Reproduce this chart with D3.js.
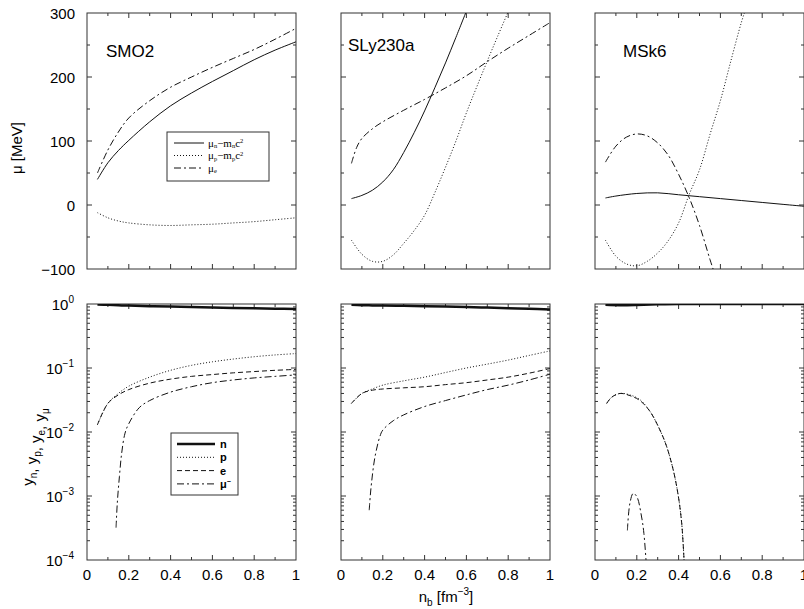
<!DOCTYPE html>
<html>
<head>
<meta charset="utf-8">
<script src="https://cdn.jsdelivr.net/npm/d3@7"></script>
<style>
  body { margin: 0; background: #fff; }
  svg { display: block; font-family: "Liberation Sans", Arial, sans-serif; }
  .frame { fill: none; stroke: #333; stroke-width: 1; }
  .tick { stroke: #333; stroke-width: 1; }
  .curve { fill: none; stroke: #111; }
</style>
</head>
<body>
<div id="chart"></div>
<script>
// modelos (columnas)
const models = ['SMO2', 'SLy230a', 'MSk6'];

// ---- fila superior: potenciales químicos [MeV] ----
const smoX = [0.05, 0.1, 0.15, 0.2, 0.3, 0.4, 0.5, 0.6, 0.7, 0.8, 0.9, 1.0];
const smoMun = [40, 66, 85, 101, 130, 155, 175, 193, 210, 227, 242, 255];
const smoMup = [-12, -20, -25, -28, -31, -32, -31, -30, -28, -26, -23, -20];
const smoMue = [50, 86, 114, 136, 163, 184, 200, 215, 229, 243, 259, 276];

const slyMunX = [0.05, 0.1, 0.15, 0.2, 0.25, 0.3, 0.35, 0.4, 0.45, 0.5, 0.55, 0.6];
const slyMun = [10, 15, 23, 36, 55, 82, 113, 147, 184, 222, 262, 303];
const slyMupX = [0.05, 0.1, 0.15, 0.2, 0.25, 0.3, 0.35, 0.4, 0.45, 0.5, 0.55, 0.6, 0.65, 0.7, 0.75, 0.8];
const slyMup = [-55, -77, -88, -88, -78, -60, -40, -16, 20, 59, 100, 144, 185, 225, 264, 302];
const slyMueX = [0.05, 0.075, 0.1, 0.15, 0.2, 0.3, 0.4, 0.5, 0.6, 0.7, 0.8, 0.9, 1.0];
const slyMue = [65, 90, 104, 119, 130, 148, 165, 183, 202, 224, 245, 265, 285];

const mskMunX = [0.05, 0.1, 0.2, 0.3, 0.4, 0.5, 0.6, 0.7, 0.8, 0.9, 1.0];
const mskMun = [11, 14, 18, 19, 16, 13, 10, 7, 4, 1, -2];
const mskMueX = [0.05, 0.1, 0.15, 0.2, 0.25, 0.3, 0.35, 0.4, 0.45, 0.5, 0.55, 0.57];
const mskMue = [67, 92, 106, 111, 108, 97, 78, 48, 12, -32, -85, -105];
const mskMupX = [0.05, 0.1, 0.15, 0.2, 0.25, 0.3, 0.35, 0.4, 0.45, 0.5, 0.55, 0.6, 0.65, 0.7, 0.72];
const mskMup = [-55, -80, -92, -95, -88, -75, -56, -28, 16, 55, 110, 163, 225, 285, 305];

// ---- fila inferior: fracciones de partículas ----
const smoYX = [0.05, 0.1, 0.15, 0.2, 0.3, 0.4, 0.5, 0.6, 0.7, 0.8, 0.9, 1.0];
const smoYn = [0.985, 0.97, 0.955, 0.945, 0.925, 0.91, 0.895, 0.88, 0.865, 0.855, 0.845, 0.835];
const smoYp = [0.013, 0.028, 0.04, 0.052, 0.072, 0.092, 0.11, 0.125, 0.138, 0.15, 0.16, 0.168];
const smoYe = [0.013, 0.028, 0.038, 0.046, 0.058, 0.067, 0.074, 0.079, 0.084, 0.088, 0.092, 0.095];
const smoYmuX = [0.139, 0.145, 0.155, 0.166, 0.182, 0.2, 0.25, 0.3, 0.4, 0.5, 0.6, 0.7, 0.8, 0.9, 1.0];
const smoYmu = [3.2e-4, 7.8e-4, 2e-3, 4.7e-3, 9.6e-3, 0.0135, 0.024, 0.031, 0.042, 0.051, 0.059, 0.065, 0.07, 0.074, 0.078];

const slyYX = [0.05, 0.1, 0.15, 0.2, 0.3, 0.4, 0.5, 0.6, 0.7, 0.8, 0.9, 1.0];
const slyYn = [0.97, 0.96, 0.95, 0.945, 0.935, 0.925, 0.91, 0.895, 0.88, 0.86, 0.84, 0.82];
const slyYp = [0.028, 0.04, 0.047, 0.054, 0.063, 0.072, 0.085, 0.1, 0.115, 0.133, 0.157, 0.185];
const slyYe = [0.028, 0.04, 0.045, 0.047, 0.049, 0.051, 0.055, 0.059, 0.065, 0.072, 0.083, 0.098];
const slyYmuX = [0.135, 0.14, 0.146, 0.162, 0.186, 0.2, 0.25, 0.3, 0.4, 0.5, 0.6, 0.7, 0.8, 0.9, 1.0];
const slyYmu = [6e-4, 1e-3, 1.6e-3, 4e-3, 8.5e-3, 0.0107, 0.015, 0.0185, 0.025, 0.031, 0.038, 0.046, 0.054, 0.065, 0.08];

const mskYnX = [0.05, 0.12, 0.2, 0.3, 0.4, 0.43, 1.0];
const mskYn = [0.972, 0.96, 0.968, 0.989, 0.999, 1.0, 1.0];
const mskYpX = [0.056, 0.08, 0.12, 0.167, 0.215, 0.263, 0.311, 0.343, 0.375, 0.399, 0.415, 0.426];
const mskYp = [0.028, 0.035, 0.04, 0.038, 0.032, 0.021, 0.0107, 0.0059, 0.0025, 9.8e-4, 3.7e-4, 1e-4];
const mskYe = [0.028, 0.035, 0.04, 0.037, 0.031, 0.021, 0.0107, 0.0059, 0.0025, 9.8e-4, 3.7e-4, 1e-4];
const mskYmuX = [0.155, 0.167, 0.183, 0.2, 0.223, 0.234, 0.244];
const mskYmu = [2.9e-4, 7.7e-4, 1.1e-3, 9.8e-4, 4.7e-4, 2.6e-4, 1e-4];

// etiquetas de ejes
const xTicks = [0, 0.2, 0.4, 0.6, 0.8, 1];
const muTicks = [300, 200, 100, 0, -100];
const logTicks = [0, -1, -2, -3, -4];

// estilos de línea
const dash = { solid: null, dotted: '1,2', dashed: '5,3', dashdot: '7,3,2,3' };

// geometría
const W = 804, H = 609;
const colX = [87, 341, 595];
const panelW = 209;
const topRow = { y0: 13, y1: 269 };
const botRow = { y0: 304, y1: 560 };

const svg = d3.select('#chart').append('svg')
  .attr('width', W).attr('height', H);

const pair = (xs, ys) => xs.map((x, i) => [x, ys[i]]);

const topSeries = [
  [
    { d: pair(smoX, smoMun), s: 'solid' },
    { d: pair(smoX, smoMup), s: 'dotted' },
    { d: pair(smoX, smoMue), s: 'dashdot' }
  ],
  [
    { d: pair(slyMunX, slyMun), s: 'solid' },
    { d: pair(slyMupX, slyMup), s: 'dotted' },
    { d: pair(slyMueX, slyMue), s: 'dashdot' }
  ],
  [
    { d: pair(mskMunX, mskMun), s: 'solid' },
    { d: pair(mskMupX, mskMup), s: 'dotted' },
    { d: pair(mskMueX, mskMue), s: 'dashdot' }
  ]
];

const botSeries = [
  [
    { d: pair(smoYX, smoYn), s: 'solid', w: 2.5 },
    { d: pair(smoYX, smoYp), s: 'dotted' },
    { d: pair(smoYX, smoYe), s: 'dashed' },
    { d: pair(smoYmuX, smoYmu), s: 'dashdot' }
  ],
  [
    { d: pair(slyYX, slyYn), s: 'solid', w: 2.5 },
    { d: pair(slyYX, slyYp), s: 'dotted' },
    { d: pair(slyYX, slyYe), s: 'dashed' },
    { d: pair(slyYmuX, slyYmu), s: 'dashdot' }
  ],
  [
    { d: pair(mskYnX, mskYn), s: 'solid', w: 2.5 },
    { d: pair(mskYpX, mskYp), s: 'dotted' },
    { d: pair(mskYpX, mskYe), s: 'dashed' },
    { d: pair(mskYmuX, mskYmu), s: 'dashdot' }
  ]
];

// dibuja un panel con marco, marcas interiores y curvas
function drawPanel(col, row, yScale, series, minorY) {
  const x0 = colX[col], x1 = x0 + panelW;
  const x = d3.scaleLinear().domain([0, 1]).range([x0, x1]);
  const id = `clip-${row}-${col}`;
  svg.append('clipPath').attr('id', id)
    .append('rect')
    .attr('x', x0).attr('y', yScale.range()[1])
    .attr('width', panelW).attr('height', yScale.range()[0] - yScale.range()[1]);

  const g = svg.append('g');
  const [yb, yt] = yScale.range();

  // marcas en x (arriba y abajo)
  d3.range(1, 10).forEach(i => {
    const v = i / 10;
    const len = i % 2 === 0 ? 5 : 3;
    g.append('line').attr('class', 'tick')
      .attr('x1', x(v)).attr('x2', x(v)).attr('y1', yb).attr('y2', yb - len);
    g.append('line').attr('class', 'tick')
      .attr('x1', x(v)).attr('x2', x(v)).attr('y1', yt).attr('y2', yt + len);
  });

  // marcas en y (izquierda y derecha)
  minorY.forEach(t => {
    const py = yScale(t.v);
    if (py <= yt + 0.5 || py >= yb - 0.5) return;
    g.append('line').attr('class', 'tick')
      .attr('x1', x0).attr('x2', x0 + t.len).attr('y1', py).attr('y2', py);
    g.append('line').attr('class', 'tick')
      .attr('x1', x1).attr('x2', x1 - t.len).attr('y1', py).attr('y2', py);
  });

  const line = d3.line()
    .x(d => x(d[0]))
    .y(d => yScale(d[1]))
    .curve(d3.curveCatmullRom.alpha(0.5));

  const cg = svg.append('g').attr('clip-path', `url(#${id})`);
  series.forEach(s => {
    cg.append('path').attr('class', 'curve')
      .attr('d', line(s.d))
      .style('stroke-width', s.w || 1)
      .attr('stroke-dasharray', dash[s.s]);
  });

  g.append('rect').attr('class', 'frame')
    .attr('x', x0).attr('y', yt).attr('width', panelW).attr('height', yb - yt);

  return x;
}

// escalas verticales
const yMu = d3.scaleLinear().domain([-100, 300]).range([topRow.y1, topRow.y0]);
const yLog = d3.scaleLog().domain([1e-4, 1]).range([botRow.y1, botRow.y0]);

const muMarks = d3.range(-50, 300, 50).map(v => ({ v, len: v % 100 === 0 ? 5 : 3 }));
const logMarks = [];
for (let e = -4; e < 0; e++) {
  for (let k = 1; k <= 9; k++) {
    logMarks.push({ v: k * Math.pow(10, e), len: k === 1 ? 5 : 3 });
  }
}

models.forEach((m, c) => {
  drawPanel(c, 0, yMu, topSeries[c], muMarks);
  const x = drawPanel(c, 1, yLog, botSeries[c], logMarks);

  // etiquetas del eje x en la fila inferior
  xTicks.forEach(v => {
    svg.append('text')
      .attr('x', x(v)).attr('y', 580)
      .attr('text-anchor', 'middle')
      .style('font-size', '15px')
      .text(v === 0 || v === 1 ? String(v) : v.toFixed(1));
  });
});

// títulos de los modelos
const titlePos = [[106, 57], [348, 51], [623, 57]];
models.forEach((m, i) => {
  svg.append('text')
    .attr('x', titlePos[i][0]).attr('y', titlePos[i][1])
    .style('font-size', '17px')
    .text(m);
});

// etiquetas del eje y (solo primera columna)
muTicks.forEach(v => {
  svg.append('text')
    .attr('x', 75).attr('y', yMu(v) + 5.5)
    .attr('text-anchor', 'end')
    .style('font-size', '15px')
    .text(v < 0 ? '\u2212' + Math.abs(v) : String(v));
});

logTicks.forEach(e => {
  const t = svg.append('text')
    .attr('x', 74).attr('y', yLog(Math.pow(10, e)) + 6)
    .attr('text-anchor', 'end')
    .style('font-size', '15px');
  t.append('tspan').text('10');
  t.append('tspan').attr('dy', -7).style('font-size', '10px')
    .text(e === 0 ? '0' : '\u2212' + Math.abs(e));
});

// títulos de ejes
svg.append('text')
  .attr('transform', 'translate(22,148) rotate(-90)')
  .attr('text-anchor', 'middle')
  .style('font-size', '15px')
  .text('\u03bc [MeV]');

const yl = svg.append('text')
  .attr('transform', 'translate(33,447) rotate(-90)')
  .attr('text-anchor', 'middle')
  .style('font-size', '15px');
[['y', 'n'], [', y', 'p'], [', y', 'e'], [', y', '\u03bc']].forEach(([a, b]) => {
  yl.append('tspan').text(a);
  yl.append('tspan').attr('dy', 4).style('font-size', '10px').text(b);
  yl.append('tspan').attr('dy', -4).text('');
});

const xl = svg.append('text')
  .attr('x', 446).attr('y', 602)
  .attr('text-anchor', 'middle')
  .style('font-size', '15px');
xl.append('tspan').text('n');
xl.append('tspan').attr('dy', 4).style('font-size', '10px').text('b');
xl.append('tspan').attr('dy', -4).text(' [fm');
xl.append('tspan').attr('dy', -7).style('font-size', '10px').text('\u22123');
xl.append('tspan').attr('dy', 7).text(']');

// leyenda superior
const topLegend = [
  { s: 'solid', a: '\u03bc', sa: 'n', b: '\u2212m', sb: 'n', c: 'c', sc: '2' },
  { s: 'dotted', a: '\u03bc', sa: 'p', b: '\u2212m', sb: 'p', c: 'c', sc: '2' },
  { s: 'dashdot', a: '\u03bc', sa: 'e' }
];
svg.append('rect').attr('class', 'frame')
  .attr('x', 167).attr('y', 132).attr('width', 102).attr('height', 49);
topLegend.forEach((r, i) => {
  const py = 143 + i * 12.5;
  svg.append('line').attr('class', 'curve')
    .attr('x1', 174).attr('x2', 204).attr('y1', py).attr('y2', py)
    .style('stroke-width', 1)
    .attr('stroke-dasharray', dash[r.s]);
  const t = svg.append('text')
    .attr('x', 208).attr('y', py + 3.5)
    .style('font-family', '"Liberation Serif", serif')
    .style('font-size', '11px');
  t.append('tspan').text(r.a);
  t.append('tspan').attr('dy', 1.5).style('font-size', '6.5px').text(r.sa);
  if (r.b) {
    t.append('tspan').attr('dy', -1.5).text(r.b);
    t.append('tspan').attr('dy', 1.5).style('font-size', '6.5px').text(r.sb);
    t.append('tspan').attr('dy', -1.5).text(r.c);
    t.append('tspan').attr('dy', -3.5).style('font-size', '6.5px').text(r.sc);
  }
});

// leyenda inferior
const botLegend = [
  { s: 'solid', w: 2.5, label: 'n' },
  { s: 'dotted', label: 'p' },
  { s: 'dashed', label: 'e' },
  { s: 'dashdot', label: '\u03bc', sup: '\u2212' }
];
svg.append('rect').attr('class', 'frame')
  .attr('x', 171).attr('y', 433).attr('width', 67).attr('height', 62);
botLegend.forEach((r, i) => {
  const py = 444 + i * 13.3;
  svg.append('line').attr('class', 'curve')
    .attr('x1', 177).attr('x2', 215).attr('y1', py).attr('y2', py)
    .style('stroke-width', r.w || 1)
    .attr('stroke-dasharray', dash[r.s]);
  const t = svg.append('text')
    .attr('x', 220).attr('y', py + 4)
    .style('font-size', '11px')
    .style('font-weight', 'bold');
  t.append('tspan').text(r.label);
  if (r.sup) t.append('tspan').attr('dy', -4).style('font-size', '7px').text(r.sup);
});
</script>
</body>
</html>
